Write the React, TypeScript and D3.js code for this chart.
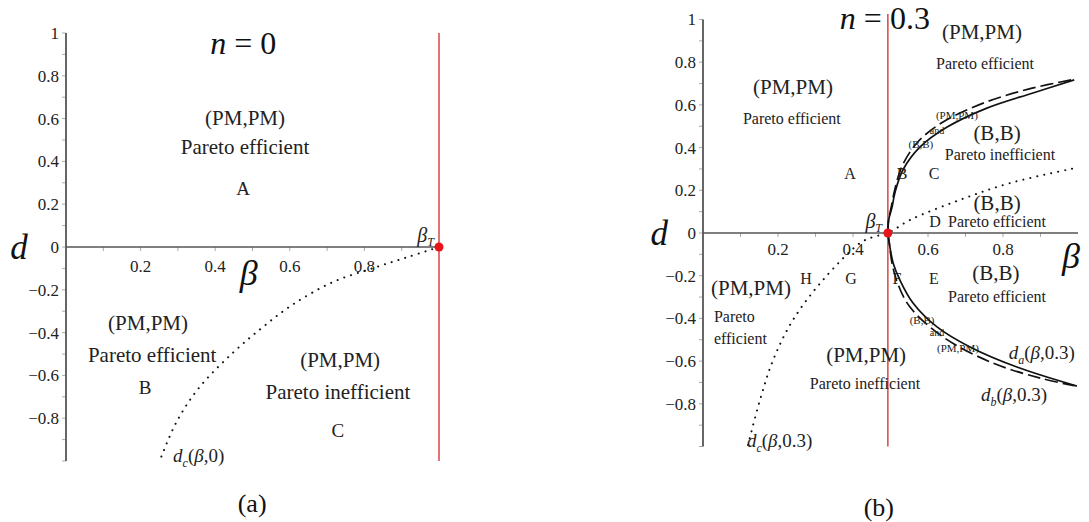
import React from "react";
import * as d3 from "d3";

// ---- data ----
// panel (a), n = 0
const dcBetaA = [1.0, 0.92, 0.83, 0.714, 0.607, 0.527, 0.447, 0.358, 0.297, 0.251];
const dcDA = [0, -0.045, -0.095, -0.165, -0.27, -0.375, -0.495, -0.655, -0.815, -1.0];
const betaTA = 1.0;

// panel (b), n = 0.3
const betaTB = 0.493;
const daUpBeta = [0.493, 0.495, 0.504, 0.512, 0.533, 0.579, 0.651, 0.757, 0.88, 0.99];
const daUpD = [0, 0.06, 0.12, 0.19, 0.295, 0.403, 0.496, 0.585, 0.656, 0.717];
const dbUpBeta = [0.493, 0.495, 0.503, 0.511, 0.53, 0.572, 0.64, 0.75, 0.87, 0.99];
const dbUpD = [0, 0.06, 0.13, 0.2, 0.31, 0.425, 0.52, 0.61, 0.675, 0.72];
const daLoBeta = [0.493, 0.497, 0.507, 0.525, 0.56, 0.624, 0.712, 0.837, 0.997];
const daLoD = [0, -0.05, -0.14, -0.22, -0.328, -0.44, -0.534, -0.628, -0.717];
const dbLoBeta = [0.493, 0.497, 0.505, 0.52, 0.552, 0.64, 0.773, 0.9, 0.99];
const dbLoD = [0, -0.05, -0.15, -0.24, -0.347, -0.487, -0.609, -0.68, -0.715];
const dcBetaB = [0.12, 0.152, 0.187, 0.24, 0.32, 0.419, 0.453, 0.493, 0.552, 0.685, 0.819, 0.992];
const dcDB = [-0.993, -0.782, -0.595, -0.407, -0.22, -0.047, -0.019, 0, 0.061, 0.155, 0.234, 0.304];

const xTicks = [0.2, 0.4, 0.6, 0.8];
const yTicks = [1, 0.8, 0.6, 0.4, 0.2, 0, -0.2, -0.4, -0.6, -0.8];
const minorTicks = d3.range(-10, 11).map((i) => i / 10);

// annotations: [text, beta, d, size, anchor]
type Note = [string, number, number, number, string?];
const notesA: Note[] = [
  ["(PM,PM)", 0.48, 0.603, 21],
  ["Pareto efficient", 0.48, 0.467, 21],
  ["A", 0.475, 0.276, 19],
  ["(PM,PM)", 0.22, -0.355, 21],
  ["Pareto efficient", 0.231, -0.505, 21],
  ["B", 0.212, -0.654, 19],
  ["(PM,PM)", 0.735, -0.528, 21],
  ["Pareto inefficient", 0.729, -0.678, 21],
  ["C", 0.729, -0.855, 19],
];
const notesB: Note[] = [
  ["(PM,PM)", 0.744, 0.941, 21],
  ["Pareto efficient", 0.752, 0.796, 16],
  ["(PM,PM)", 0.24, 0.684, 21],
  ["Pareto efficient", 0.237, 0.539, 16],
  ["(B,B)", 0.784, 0.468, 21],
  ["Pareto inefficient", 0.792, 0.37, 16],
  ["(B,B)", 0.784, 0.141, 21],
  ["Pareto efficient", 0.784, 0.052, 16],
  ["(B,B)", 0.781, -0.187, 21],
  ["Pareto efficient", 0.784, -0.295, 16],
  ["(PM,PM)", 0.128, -0.258, 21],
  ["Pareto", 0.029, -0.389, 16, "start"],
  ["efficient", 0.029, -0.492, 16, "start"],
  ["(PM,PM)", 0.435, -0.571, 21],
  ["Pareto inefficient", 0.432, -0.703, 16],
  ["A", 0.392, 0.281, 16],
  ["B", 0.531, 0.281, 16],
  ["C", 0.616, 0.281, 16],
  ["D", 0.619, 0.052, 16],
  ["H", 0.275, -0.211, 16],
  ["G", 0.395, -0.211, 16],
  ["F", 0.517, -0.211, 16],
  ["E", 0.616, -0.211, 16],
  ["(PM,PM)", 0.677, 0.553, 11],
  ["and", 0.624, 0.482, 10],
  ["(B,B)", 0.581, 0.417, 11],
  ["(B,B)", 0.584, -0.407, 11],
  ["and", 0.624, -0.464, 10],
  ["(PM,PM)", 0.68, -0.539, 11],
];

const serif = "'Liberation Serif', 'Times New Roman', serif";

type Curve = { beta: number[]; d: number[]; style: "solid" | "dashed" | "dotted" };
type FnLabel = { sub: string; arg: string; beta: number; d: number };

type PanelProps = {
  x: d3.ScaleLinear<number, number>;
  y: d3.ScaleLinear<number, number>;
  betaT: number;
  redTop: number;
  curves: Curve[];
  notes: Note[];
  fnLabels: FnLabel[];
  title: string;
  titlePos: [number, number];
  betaTPos: [number, number];
  dPos: [number, number];
  betaPos: [number, number];
  caption: string;
  captionPos: [number, number];
  tickDy: number;
};

function Panel(p: PanelProps) {
  const { x, y } = p;
  const line = d3
    .line<[number, number]>()
    .x((v) => x(v[0]))
    .y((v) => y(v[1]))
    .curve(d3.curveCatmullRom.alpha(0.5));
  const dash = { solid: undefined, dashed: "13 5", dotted: "0.1 7" };
  const fmt = (v: number) => (v < 0 ? "\u2212" + Math.abs(v) : String(v));
  return (
    <g>
      {/* minor ticks */}
      {minorTicks.map((t) => (
        <line key={"my" + t} x1={x(0) - 4} x2={x(0)} y1={y(t)} y2={y(t)} stroke="#aaa" strokeWidth={1} />
      ))}
      {minorTicks
        .filter((t) => t > 0 && t < 1)
        .map((t) => (
          <line key={"mx" + t} x1={x(t)} x2={x(t)} y1={y(0)} y2={y(0) + 4} stroke="#aaa" strokeWidth={1} />
        ))}
      {/* axes */}
      <line x1={x(0)} x2={x(0)} y1={y(1)} y2={y(-1)} stroke="#666" strokeWidth={2} />
      <line x1={x(0)} x2={x(1)} y1={y(0)} y2={y(0)} stroke="#555" strokeWidth={1.6} />
      {yTicks.map((t) => (
        <text key={"yt" + t} x={x(0) - 7} y={y(t)} dy="0.35em" textAnchor="end" fontSize={17} fontFamily={serif} fill="#222">
          {fmt(t)}
        </text>
      ))}
      {xTicks.map((t) => (
        <text key={"xt" + t} x={x(t)} y={y(0) + p.tickDy} dy="0.35em" textAnchor="middle" fontSize={17} fontFamily={serif} fill="#222">
          {fmt(t)}
        </text>
      ))}
      {/* red threshold line */}
      <line x1={x(p.betaT)} x2={x(p.betaT)} y1={p.redTop} y2={y(-1)} stroke="#d02a2a" strokeWidth={1.3} />
      {/* curves */}
      {p.curves.map((c, i) => (
        <path
          key={"c" + i}
          d={line(c.beta.map((b, j) => [b, c.d[j]] as [number, number])) || ""}
          fill="none"
          stroke="#111"
          strokeWidth={c.style === "dotted" ? 2 : 1.7}
          strokeDasharray={dash[c.style]}
          strokeLinecap={c.style === "dotted" ? "round" : "butt"}
        />
      ))}
      <circle cx={x(p.betaT)} cy={y(0)} r={4.5} fill="#e8141c" />
      {/* annotations */}
      {p.notes.map((n, i) => (
        <text
          key={"n" + i}
          x={x(n[1])}
          y={y(n[2])}
          dy="0.35em"
          textAnchor={n[4] || "middle"}
          fontSize={n[3]}
          fontFamily={serif}
          fill="#222"
        >
          {n[0]}
        </text>
      ))}
      {p.fnLabels.map((f, i) => (
        <text key={"f" + i} x={x(f.beta)} y={y(f.d)} dy="0.35em" fontSize={19} fontFamily={serif} fill="#222">
          <tspan fontStyle="italic">d</tspan>
          <tspan fontStyle="italic" fontSize={12} dy={5}>{f.sub}</tspan>
          <tspan dy={-5}>(</tspan>
          <tspan fontStyle="italic">β</tspan>
          <tspan>{"," + f.arg + ")"}</tspan>
        </text>
      ))}
      <text x={x(p.betaTPos[0])} y={y(p.betaTPos[1])} dy="0.35em" fontSize={20} fontFamily={serif} fill="#222">
        <tspan fontStyle="italic">β</tspan>
        <tspan fontStyle="italic" fontSize={12} dy={4}>T</tspan>
      </text>
      <text x={x(p.titlePos[0])} y={y(p.titlePos[1])} dy="0.35em" textAnchor="middle" fontSize={32} fontFamily={serif} fill="#111">
        <tspan fontStyle="italic">n</tspan>
        <tspan>{" = " + p.title}</tspan>
      </text>
      <text x={x(p.dPos[0])} y={y(p.dPos[1])} dy="0.35em" textAnchor="middle" fontSize={35} fontStyle="italic" fontFamily={serif} fill="#111">
        d
      </text>
      <text x={x(p.betaPos[0])} y={y(p.betaPos[1])} dy="0.35em" textAnchor="middle" fontSize={36} fontStyle="italic" fontFamily={serif} fill="#111">
        β
      </text>
      <text x={x(p.captionPos[0])} y={y(p.captionPos[1])} dy="0.35em" textAnchor="middle" fontSize={26} fontFamily={serif} fill="#111">
        {p.caption}
      </text>
    </g>
  );
}

export default function App() {
  const xA = d3.scaleLinear().domain([0, 1]).range([66, 439]);
  const yA = d3.scaleLinear().domain([-1, 1]).range([461, 33]);
  const xB = d3.scaleLinear().domain([0, 1]).range([703, 1078]);
  const yB = d3.scaleLinear().domain([-1, 1]).range([446.5, 19.5]);
  return (
    <svg width={1089} height={522} style={{ position: "absolute", left: 0, top: 0, background: "#fff" }}>
      <Panel
        x={xA}
        y={yA}
        betaT={betaTA}
        redTop={33}
        curves={[{ beta: dcBetaA, d: dcDA, style: "dotted" }]}
        notes={notesA}
        fnLabels={[{ sub: "c", arg: "0", beta: 0.287, d: -0.972 }]}
        title="0"
        titlePos={[0.475, 0.953]}
        betaTPos={[0.942, 0.058]}
        dPos={[-0.126, 0]}
        betaPos={[0.49, -0.121]}
        caption="(a)"
        captionPos={[0.499, -1.196]}
        tickDy={19}
      />
      <Panel
        x={xB}
        y={yB}
        betaT={betaTB}
        redTop={14}
        curves={[
          { beta: daUpBeta, d: daUpD, style: "solid" },
          { beta: dbUpBeta, d: dbUpD, style: "dashed" },
          { beta: daLoBeta, d: daLoD, style: "solid" },
          { beta: dbLoBeta, d: dbLoD, style: "dashed" },
          { beta: dcBetaB, d: dcDB, style: "dotted" },
        ]}
        notes={notesB}
        fnLabels={[
          { sub: "a", arg: "0.3", beta: 0.815, d: -0.56 },
          { sub: "b", arg: "0.3", beta: 0.741, d: -0.754 },
          { sub: "c", arg: "0.3", beta: 0.117, d: -0.97 },
        ]}
        title="0.3"
        titlePos={[0.485, 1.007]}
        betaTPos={[0.433, 0.058]}
        dPos={[-0.117, 0]}
        betaPos={[0.981, -0.103]}
        caption="(b)"
        captionPos={[0.469, -1.283]}
        tickDy={16}
      />
    </svg>
  );
}
